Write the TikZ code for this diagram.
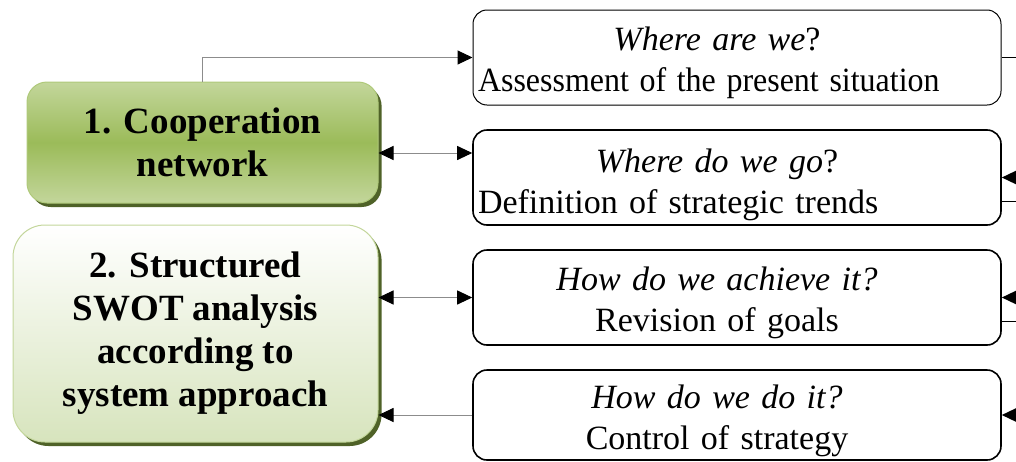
\documentclass[tikz,border=0pt]{standalone}
\usepackage{fontspec}
\setmainfont{Liberation Serif}
\usetikzlibrary{arrows.meta,shadows,positioning}

\definecolor{oliveLight}{HTML}{C3D69B}
\definecolor{oliveMid}{HTML}{9BBB59}
\definecolor{oliveDark}{HTML}{4F6228}
\definecolor{paleGreen}{HTML}{D7E4BD}
\definecolor{linkGray}{HTML}{8C8C8C}

\tikzset{
  tri/.tip={Triangle[length=7.5pt,width=7pt,color=black]},
  stagebox/.style={rounded corners=10pt, draw=oliveMid!80, line width=0.5pt,
    align=center, font=\fontsize{18.5}{21.5}\selectfont\bfseries,
    drop shadow={shadow xshift=1.8pt, shadow yshift=-2pt, fill=oliveDark, opacity=1}},
  qbox/.style={draw, fill=white, rounded corners=7pt, line width=0.8pt,
    minimum width=264pt, minimum height=47.5pt},
  qtext/.style={align=center, text width=239pt, inner sep=0pt,
    font=\fontsize{17}{20.5}\selectfont},
  link/.style={draw=linkGray, line width=0.5pt},
  exit/.style={draw=black, line width=0.7pt},
}

\begin{document}
\begin{tikzpicture}[x=0.5pt, y=-0.5pt]
    \useasboundingbox (0,0) rectangle (1016,461);
    % Stages on the left
    \node[stagebox, top color=oliveLight, bottom color=oliveLight, middle color=oliveMid,
      minimum width=175.5pt, minimum height=60.5pt] (n1) at (202.5,142.5) {1. Cooperation\\network};
    \node[stagebox, rounded corners=16pt, draw=oliveLight, top color=white, bottom color=paleGreen,
      minimum width=182.5pt, minimum height=108.5pt] (n2) at (195.5,333.5)
      {2. Structured\\SWOT analysis\\according to\\system approach};
    % Questions on the right
    \node[qbox, line width=0.5pt] (qA) at (737,57.5) {};
    \node[qbox] (qB) at (737,177.5) {};
    \node[qbox] (qC) at (737,297.5) {};
    \node[qbox, minimum height=45pt] (qD) at (737,415) {};
    \node[qtext] (tA) at ([xshift=-10pt,yshift=-2.5pt]qA.center)
      {\textit{Where are we}?\\\makebox[239pt][l]{\scalebox{0.94}[1]{Assessment of the present situation}}};
    \node[qtext] (tB) at ([xshift=-10pt,yshift=-3.5pt]qB.center)
      {\textit{Where do we go}?\\\makebox[239pt][l]{Definition of strategic trends}};
    \node[qtext] (tC) at ([xshift=-10pt,yshift=-2.5pt]qC.center)
      {\textit{How do we achieve it?}\\Revision of goals};
    \node[qtext] (tD) at ([xshift=-10pt,yshift=-3pt]qD.center)
      {\textit{How do we do it?}\\Control of strategy};
    % Links between stages and questions
    \draw[link,-tri] (n1.north) |- (qA.west);
    \draw[link,tri-tri] ([yshift=-5.25pt]n1.east) -- ([yshift=-5.25pt]n1.east -| qB.west);
    \draw[link,tri-tri] (qC.west -| n2.east) -- (qC.west);
    \draw[link,-tri] (qD.west) -- (qD.west -| n2.east);
    % Lines leaving to the right
    \draw[exit] (qA.east) -- ++(10pt,0);
    \foreach \q in {B,C,D}
      \draw[exit,-tri] ([xshift=10pt]q\q.east) -- (q\q.east);
    \foreach \q in {B,C}
      \draw[exit] ([yshift=-12pt]q\q.east) -- ++(10pt,0);
\end{tikzpicture}
\end{document}
